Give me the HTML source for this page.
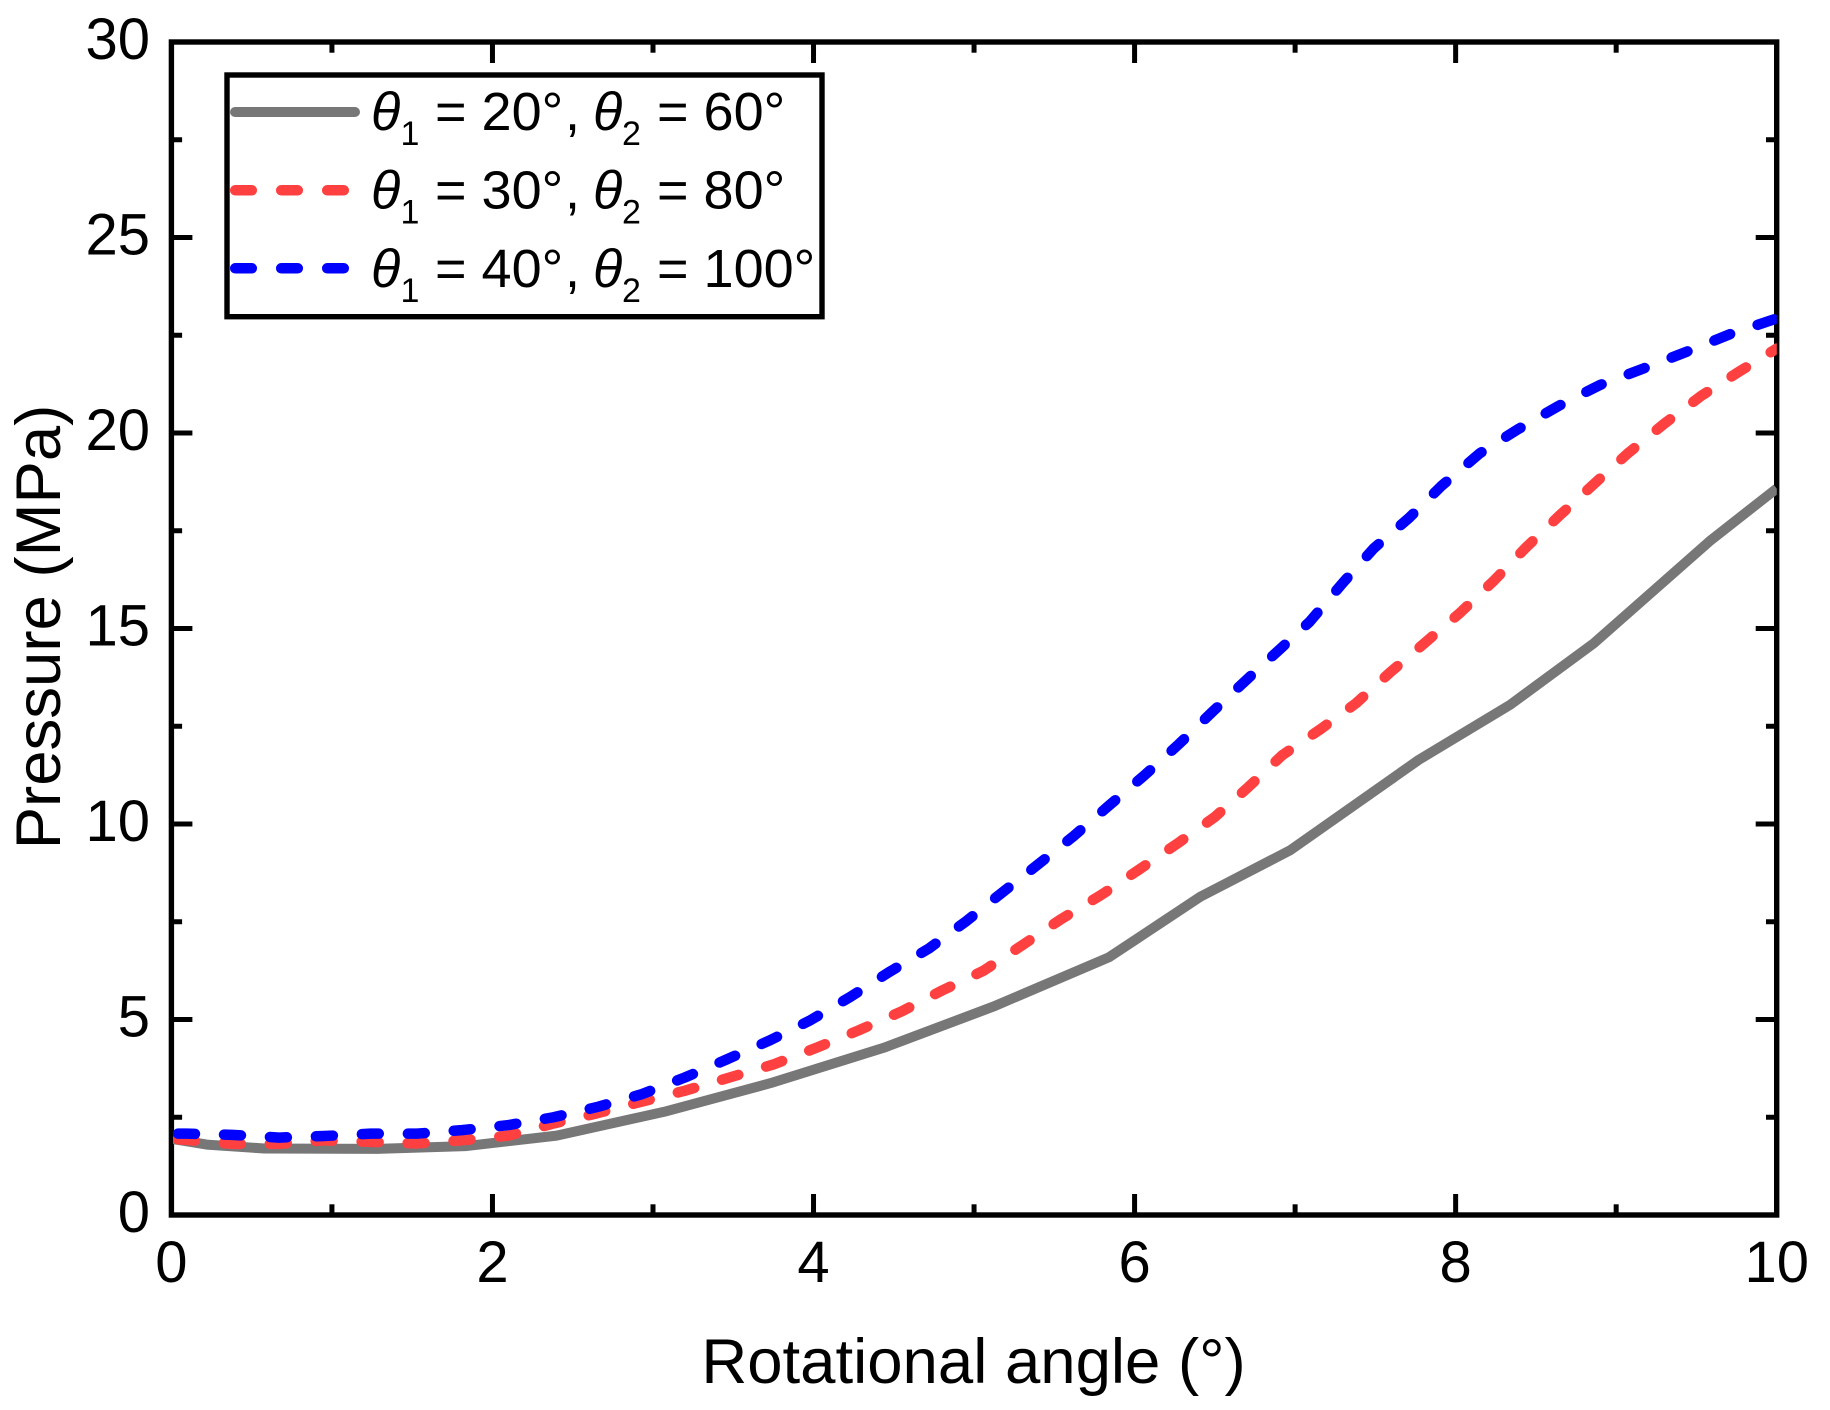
<!DOCTYPE html>
<html lang="en">
<head>
<meta charset="utf-8">
<title>Pressure vs rotational angle</title>
<style>
html,body{margin:0;padding:0;background:#fff;width:1830px;height:1410px;overflow:hidden}
svg{display:block}
text{font-family:"Liberation Sans",Arial,sans-serif;fill:#000}
</style>
</head>
<body>
<svg id="chart" xmlns="http://www.w3.org/2000/svg" width="1830" height="1410" viewBox="0 0 1830 1410">
  <defs><clipPath id="plot-clip"><rect x="173" y="40" width="1603.8" height="1175"/></clipPath></defs>
  <rect x="171.4" y="42" width="1605.3" height="1173" fill="none" stroke="#000" stroke-width="5.4"/>
  <g id="ticks"></g>
  <g id="tick-labels"></g>
  <g id="series" clip-path="url(#plot-clip)"></g>
  <text x="973.5" y="1383" font-size="63.5" text-anchor="middle">Rotational angle (°)</text>
  <text transform="translate(60 627) rotate(-90)" font-size="63.5" text-anchor="middle">Pressure (MPa)</text>
  <g>
    <rect x="227" y="75" width="595" height="241.7" fill="#fff" stroke="#000" stroke-width="5.4"/>
    <line x1="235" y1="112" x2="355" y2="112" stroke="#777777" stroke-width="10" stroke-linecap="round"/>
    <line x1="235.2" y1="190.3" x2="344" y2="190.3" stroke="#FF4040" stroke-width="10.5" stroke-linecap="round" stroke-dasharray="16.6 29.4"/>
    <line x1="235.2" y1="268.3" x2="344" y2="268.3" stroke="#0000FF" stroke-width="10.5" stroke-linecap="round" stroke-dasharray="16.6 29.4"/>
    <text font-size="54" y="130"><tspan x="371" font-style="italic">θ</tspan><tspan x="400.5" y="145" font-size="34">1</tspan><tspan x="435" y="130">= 20°</tspan><tspan x="565" y="130">,</tspan><tspan x="593" y="130" font-style="italic">θ</tspan><tspan x="622" y="145" font-size="34">2</tspan><tspan x="657" y="130">= 60°</tspan></text>
    <text font-size="54" y="208.3"><tspan x="371" font-style="italic">θ</tspan><tspan x="400.5" y="223.3" font-size="34">1</tspan><tspan x="435" y="208.3">= 30°</tspan><tspan x="565" y="208.3">,</tspan><tspan x="593" y="208.3" font-style="italic">θ</tspan><tspan x="622" y="223.3" font-size="34">2</tspan><tspan x="657" y="208.3">= 80°</tspan></text>
    <text font-size="54" y="287"><tspan x="371" font-style="italic">θ</tspan><tspan x="400.5" y="302" font-size="34">1</tspan><tspan x="435" y="287">= 40°</tspan><tspan x="565" y="287">,</tspan><tspan x="593" y="287" font-style="italic">θ</tspan><tspan x="622" y="302" font-size="34">2</tspan><tspan x="657" y="287">= 100°</tspan></text>
  </g>
</svg>
<script>
const xTickLabels = [0, 2, 4, 6, 8, 10];
const yTickLabels = [0, 5, 10, 15, 20, 25, 30];
const xMinorTicks = [1, 3, 5, 7, 9];
const yMinorTicks = [2.5, 7.5, 12.5, 17.5, 22.5, 27.5];

const grayX = [0, 0.22, 0.58, 1.28, 1.83, 2.4, 3.07, 3.73, 4.44, 5.12, 5.84, 6.41, 6.97, 7.77, 8.34, 8.86, 9.59, 10];
const grayY = [1.95, 1.8, 1.7, 1.69, 1.76, 2.03, 2.64, 3.37, 4.28, 5.33, 6.59, 8.14, 9.33, 11.64, 13.05, 14.62, 17.26, 18.58];

const redX = [0, 0.095, 0.38, 0.67, 0.95, 1.24, 1.53, 1.81, 2.1, 2.37, 2.65, 2.93, 3.2, 3.48, 3.75, 4.02, 4.28, 4.55, 4.8, 5.06, 5.3, 5.54, 5.79, 6.03, 6.27, 6.5, 6.71, 6.92, 7.16, 7.38, 7.59, 7.81, 8.03, 8.24, 8.44, 8.65, 8.86, 9.07, 9.3, 9.53, 9.77, 10];
const redY = [1.95, 1.92, 1.82, 1.82, 1.91, 1.87, 1.83, 1.91, 2.03, 2.33, 2.6, 2.9, 3.18, 3.52, 3.85, 4.28, 4.72, 5.21, 5.74, 6.25, 6.9, 7.56, 8.18, 8.84, 9.51, 10.18, 10.95, 11.76, 12.43, 13.09, 13.87, 14.64, 15.41, 16.23, 17.08, 17.9, 18.69, 19.47, 20.24, 20.95, 21.58, 22.16];

const blueX = [0, 0.095, 0.38, 0.67, 0.95, 1.24, 1.53, 1.81, 2.1, 2.38, 2.66, 2.93, 3.2, 3.46, 3.73, 3.98, 4.23, 4.47, 4.72, 4.95, 5.17, 5.4, 5.62, 5.84, 6.06, 6.27, 6.48, 6.69, 6.9, 7.09, 7.3, 7.49, 7.71, 7.91, 8.15, 8.39, 8.64, 8.9, 9.17, 9.44, 9.71, 10];
const blueY = [2.08, 2.08, 2.05, 1.98, 2.02, 2.08, 2.08, 2.17, 2.3, 2.5, 2.77, 3.09, 3.52, 3.98, 4.47, 4.98, 5.58, 6.21, 6.82, 7.51, 8.23, 8.97, 9.69, 10.47, 11.24, 12.02, 12.85, 13.66, 14.45, 15.17, 16.18, 17.05, 17.83, 18.64, 19.48, 20.1, 20.69, 21.23, 21.65, 22.08, 22.53, 22.93];

const SVG_NS = 'http://www.w3.org/2000/svg';
const plotLeft = 171.4, plotRight = 1776.7, plotTop = 42, plotBottom = 1215;
const xMax = 10, yMax = 30;
const majorLen = 21, minorLen = 10.7, tickWidth = 5;

function sx(v) { return plotLeft + (v / xMax) * (plotRight - plotLeft); }
function sy(v) { return plotBottom - (v / yMax) * (plotBottom - plotTop); }

const tickGroup = document.getElementById('ticks');
const labelGroup = document.getElementById('tick-labels');
const seriesGroup = document.getElementById('series');

function makeLine(x1, y1, x2, y2) {
  const l = document.createElementNS(SVG_NS, 'line');
  l.setAttribute('x1', x1);
  l.setAttribute('y1', y1);
  l.setAttribute('x2', x2);
  l.setAttribute('y2', y2);
  l.setAttribute('stroke', '#000');
  l.setAttribute('stroke-width', tickWidth);
  tickGroup.appendChild(l);
  return l;
}

function drawXTick(v, len, kind) {
  const x = sx(v);
  const bottom = makeLine(x, plotBottom, x, plotBottom - len);
  
  
  const top = makeLine(x, plotTop, x, plotTop + len);
  
  
}

function drawYTick(v, len, kind) {
  const y = sy(v);
  const left = makeLine(plotLeft, y, plotLeft + len, y);
  
  
  const right = makeLine(plotRight, y, plotRight - len, y);
  
  
}

xTickLabels.forEach(function (v) {
  if (v > 0 && v < xMax) drawXTick(v, majorLen, 'major');
  const t = document.createElementNS(SVG_NS, 'text');
  
  
  t.setAttribute('x', sx(v));
  t.setAttribute('y', 1282);
  t.setAttribute('font-size', 58);
  t.setAttribute('text-anchor', 'middle');
  t.textContent = v;
  labelGroup.appendChild(t);
});
xMinorTicks.forEach(function (v) { drawXTick(v, minorLen, 'minor'); });

yTickLabels.forEach(function (v) {
  if (v > 0 && v < yMax) drawYTick(v, majorLen, 'major');
  const t = document.createElementNS(SVG_NS, 'text');
  
  
  t.setAttribute('x', 150);
  t.setAttribute('y', sy(v) + 17);
  t.setAttribute('font-size', 58);
  t.setAttribute('text-anchor', 'end');
  t.textContent = v;
  labelGroup.appendChild(t);
});
yMinorTicks.forEach(function (v) { drawYTick(v, minorLen, 'minor'); });

function pathFor(xs, ys) {
  return xs.map(function (x, i) {
    return (i ? 'L' : 'M') + sx(x).toFixed(2) + ' ' + sy(ys[i]).toFixed(2);
  }).join(' ');
}

const grayPath = document.createElementNS(SVG_NS, 'path');


grayPath.setAttribute('d', pathFor(grayX, grayY));
grayPath.setAttribute('fill', 'none');
grayPath.setAttribute('stroke', '#777777');
grayPath.setAttribute('stroke-width', 10);
grayPath.setAttribute('stroke-linejoin', 'round');
seriesGroup.appendChild(grayPath);

const redPath = document.createElementNS(SVG_NS, 'path');


redPath.setAttribute('d', pathFor(redX, redY));
redPath.setAttribute('fill', 'none');
redPath.setAttribute('stroke', '#FF4040');
redPath.setAttribute('stroke-width', 10.5);
redPath.setAttribute('stroke-linecap', 'round');
redPath.setAttribute('stroke-linejoin', 'round');
redPath.setAttribute('stroke-dasharray', '17 29');
redPath.setAttribute('stroke-dashoffset', '-6.6');
seriesGroup.appendChild(redPath);

const bluePath = document.createElementNS(SVG_NS, 'path');


bluePath.setAttribute('d', pathFor(blueX, blueY));
bluePath.setAttribute('fill', 'none');
bluePath.setAttribute('stroke', '#0000FF');
bluePath.setAttribute('stroke-width', 10.5);
bluePath.setAttribute('stroke-linecap', 'round');
bluePath.setAttribute('stroke-linejoin', 'round');
bluePath.setAttribute('stroke-dasharray', '17 29');
bluePath.setAttribute('stroke-dashoffset', '-6.6');
seriesGroup.appendChild(bluePath);
</script>
</body>
</html>
